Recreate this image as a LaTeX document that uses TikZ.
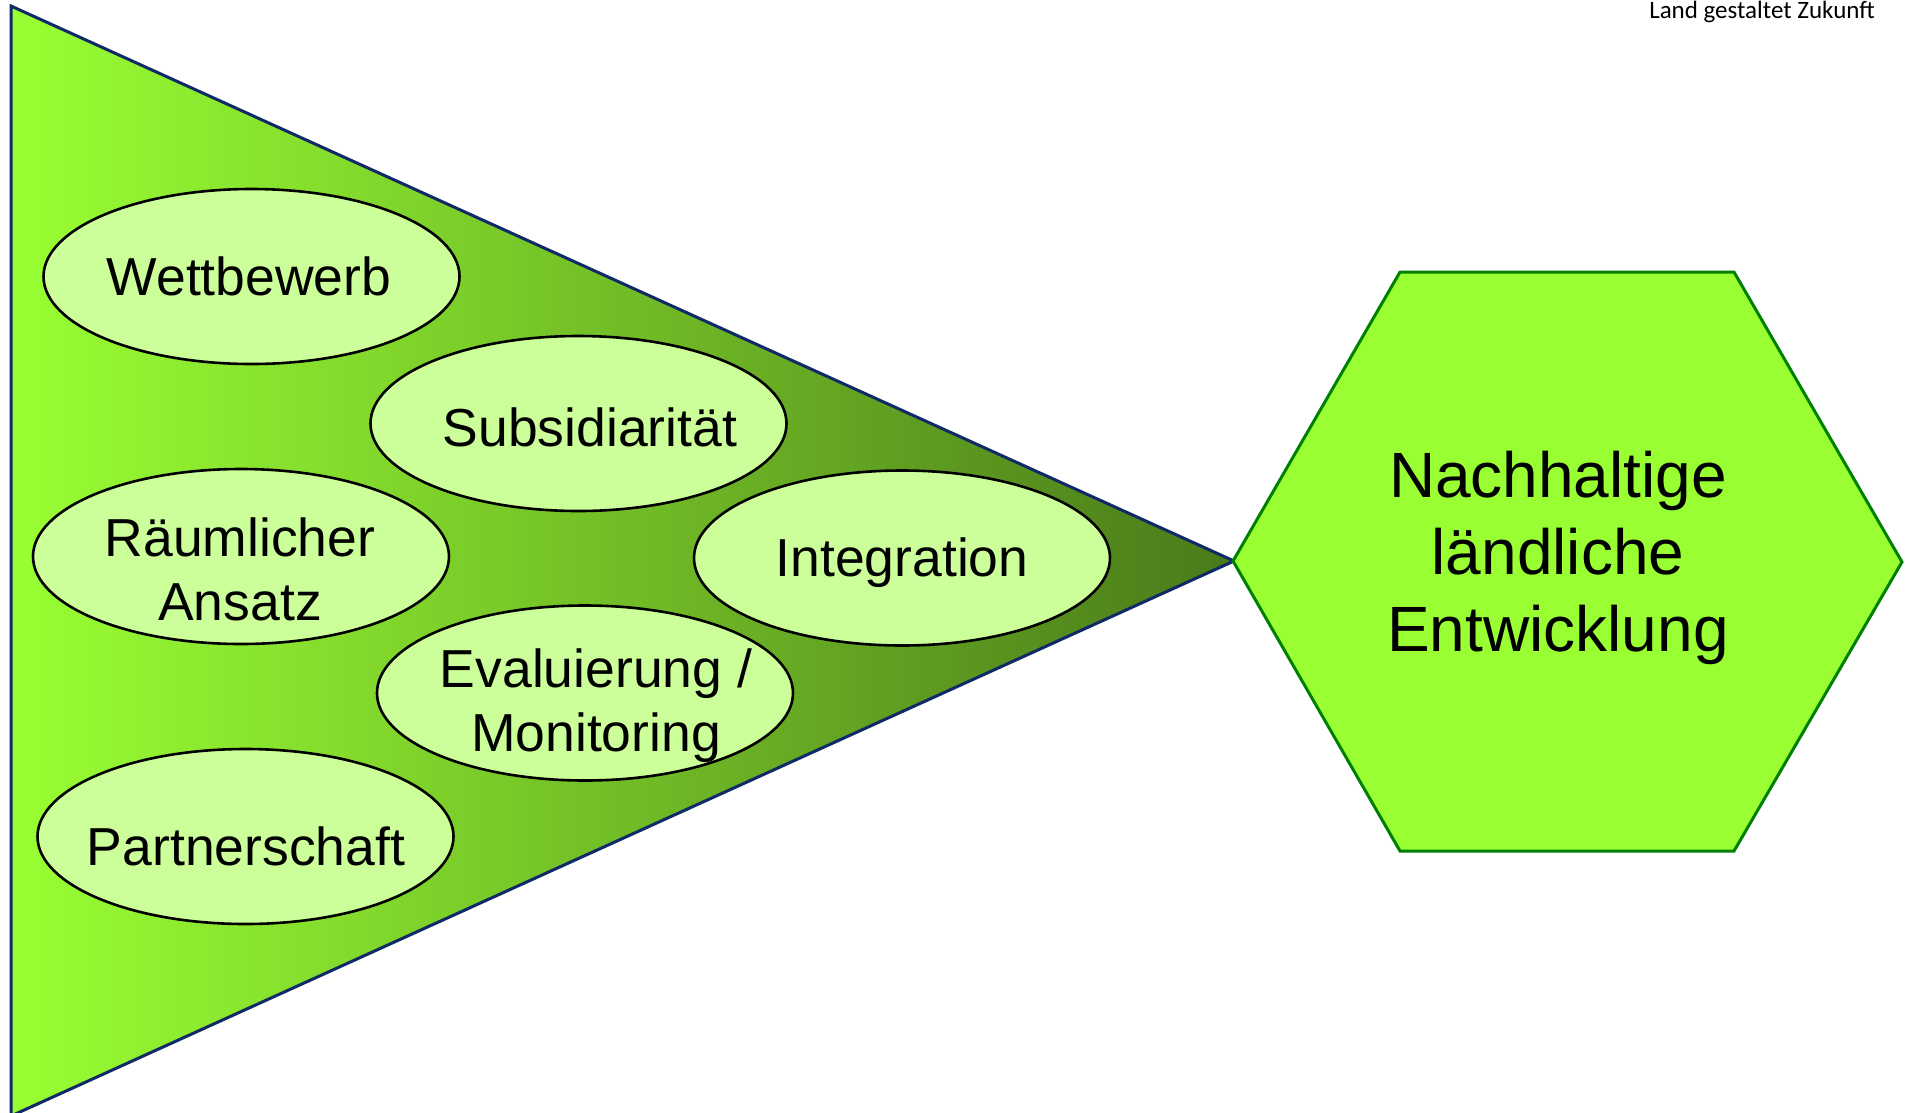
\documentclass[tikz,border=0pt]{standalone}
\usepackage{fontspec}
\setmainfont{Liberation Sans}
\newfontfamily\tagfont{Carlito}
\usetikzlibrary{shapes.geometric}
\definecolor{limeg}{HTML}{99FF33}
\definecolor{darkg}{HTML}{4A7A1A}
\definecolor{ovalg}{HTML}{CCFF99}
\definecolor{navyl}{HTML}{0F2A66}
\definecolor{hexl}{HTML}{008000}
\tikzset{
  oval/.style={draw=black,line width=2.6pt,fill=ovalg,ellipse,minimum width=416pt,minimum height=175pt,inner sep=0pt},
  ovaltext/.style={font=\fontsize{53.5}{64}\selectfont,align=center,text=black,inner sep=0pt},
  hextext/.style={font=\fontsize{64}{77}\selectfont,align=center,text=black,inner sep=0pt},
  tagtext/.style={font=\tagfont\fontsize{25}{28}\selectfont,text=black,inner sep=0pt}
}
\begin{document}
\begin{tikzpicture}[x=1pt,y=-1pt]
\useasboundingbox (0,0) rectangle (1909,1112);
\begin{scope}
\clip (0,0) rectangle (1909,1112);
\coordinate (ta) at (11,6);
\coordinate (tb) at (1234,561);
\coordinate (tc) at (11,1116);
\shade[left color=limeg,right color=darkg] (ta) -- (tb) -- (tc) -- cycle;
\draw[navyl,line width=3pt,line join=miter] (ta) -- (tb) -- (tc) -- cycle;
\end{scope}
\coordinate (h1) at (1233,561);
\coordinate (h2) at (1400,272);
\coordinate (h3) at (1734,272);
\coordinate (h4) at (1902,562);
\coordinate (h5) at (1734,851);
\coordinate (h6) at (1400,851);
\draw[hexl,line width=3pt,fill=limeg,line join=miter] (h1) -- (h2) -- (h3) -- (h4) -- (h5) -- (h6) -- cycle;
\node[oval] (o1) at (251.5,276.5) {};
\node[oval] (o2) at (578.5,423.5) {};
\node[oval] (o3) at (241,556.5) {};
\node[oval] (o4) at (902,558) {};
\node[oval] (o5) at (585,693) {};
\node[oval] (o6) at (245.5,836.5) {};
\node[ovaltext] (t1) at (249,276) {Wettbewerb};
\node[ovaltext] (t2) at (590,427) {Subsidiarität};
\node[ovaltext] (t3) at (240,569) {Räumlicher\\Ansatz};
\node[ovaltext] (t4) at (902,563) {Integration};
\node[ovaltext] (t5) at (596,706) {Evaluierung /\\Monitoring};
\node[ovaltext] (t6) at (246,846) {Partnerschaft};
\node[hextext] (hx) at (1558,558) {Nachhaltige\\ländliche\\Entwicklung};
\node[tagtext] (tag) at (1762,12) {Land gestaltet Zukunft};
\end{tikzpicture}
\end{document}
